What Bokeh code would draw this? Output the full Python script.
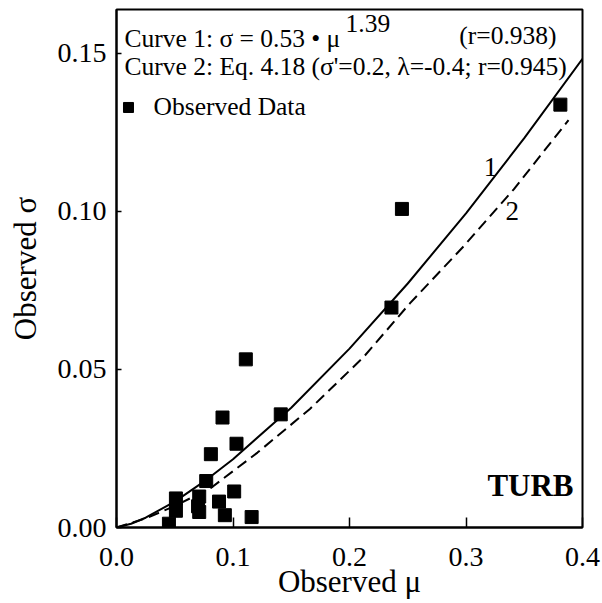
from bokeh.plotting import figure
from bokeh.models import Range1d, FixedTicker, Label, NumeralTickFormatter
from bokeh.embed import file_html
from bokeh.resources import INLINE

# Observed data (mu, sigma)
obs_mu = [0.045, 0.051, 0.051, 0.071, 0.070, 0.071, 0.077, 0.081, 0.091, 0.088,
          0.093, 0.103, 0.101, 0.111, 0.116, 0.141, 0.236, 0.245, 0.381]
obs_sigma = [0.0012, 0.0092, 0.0053, 0.0098, 0.0067, 0.0049, 0.0147, 0.0232, 0.0348, 0.0082,
             0.0039, 0.0265, 0.0114, 0.0532, 0.0033, 0.0358, 0.0696, 0.1008, 0.1338]

# Curve 1: sigma = 0.53 * mu^1.39
c1_mu = [0.0, 0.0125, 0.025, 0.05, 0.075, 0.1, 0.15, 0.2, 0.25, 0.3, 0.35, 0.4]
c1_sigma = [0.0, 0.0012, 0.0031, 0.0082, 0.0145, 0.0216, 0.0379, 0.0566, 0.0772, 0.0994, 0.1232, 0.1483]

# Curve 2: Eq. 4.18
c2_mu = [0.0, 0.026, 0.05, 0.081, 0.121, 0.166, 0.212, 0.252, 0.298, 0.341, 0.388]
c2_sigma = [0.0, 0.0030, 0.0068, 0.0125, 0.0237, 0.0375, 0.0539, 0.0710, 0.0890, 0.1070, 0.1289]

x_ticks = [0.0, 0.1, 0.2, 0.3, 0.4]
y_ticks = [0.0, 0.05, 0.10, 0.15]

FONT = "Liberation Serif"

p = figure(width=602, height=603, output_backend="svg", toolbar_location=None,
           x_range=Range1d(0, 0.4), y_range=Range1d(0, 0.1639),
           min_border_left=116, min_border_right=20, min_border_top=9, min_border_bottom=76)
p.grid.visible = False
p.outline_line_color = "black"
p.outline_line_width = 2
p.background_fill_color = "white"
p.border_fill_color = "white"

for ax in (p.xaxis[0], p.yaxis[0]):
    ax.axis_line_color = "black"
    ax.axis_line_width = 2
    ax.major_tick_line_color = "black"
    ax.major_tick_line_width = 1.5
    ax.minor_tick_line_color = None
    ax.major_label_text_font = FONT
    ax.major_label_text_font_size = "28px"
    ax.major_label_text_color = "black"
    ax.axis_label_text_font = FONT
    ax.axis_label_text_font_size = "31px"
    ax.axis_label_text_font_style = "normal"
    ax.axis_label_text_color = "black"

p.xaxis.ticker = FixedTicker(ticks=x_ticks)
p.yaxis.ticker = FixedTicker(ticks=y_ticks)
p.xaxis.formatter = NumeralTickFormatter(format="0.0")
p.yaxis.formatter = NumeralTickFormatter(format="0.00")
p.xaxis.major_tick_in = 10
p.xaxis.major_tick_out = 0
p.yaxis.major_tick_in = 5
p.yaxis.major_tick_out = 0
p.xaxis.major_label_standoff = 20
p.yaxis.major_label_standoff = 10
p.xaxis.axis_label = "Observed μ"
p.yaxis.axis_label = "Observed σ"
p.xaxis.axis_label_standoff = -5
p.yaxis.axis_label_standoff = 12

p.line(c1_mu, c1_sigma, line_color="black", line_width=2)
p.line(c2_mu, c2_sigma, line_color="black", line_width=2, line_dash="11 6")
p.scatter(obs_mu, obs_sigma, marker="square", size=13, fill_color="black", line_color="black")


def lab(x, y, t, size="25.5px", align="left", baseline="middle", style="normal"):
    p.add_layout(Label(x=x, y=y, text=t, text_font=FONT, text_font_size=size,
                       text_align=align, text_baseline=baseline, text_font_style=style,
                       text_color="black"))

# legend block
lab(0.0069, 0.1547, "Curve 1: σ = 0.53 • μ")
lab(0.1966, 0.1595, "1.39")
lab(0.3777, 0.1557, "(r=0.938)", align="right")
lab(0.0069, 0.1459, "Curve 2: Eq. 4.18 (σ'=0.2, λ=-0.4; r=0.945)")
p.scatter([0.0103], [0.1329], marker="square", size=10, fill_color="black", line_color="black")
lab(0.0318, 0.1332, "Observed Data")

lab(0.321, 0.1142, "1", size="27px", align="center")
lab(0.3396, 0.1002, "2", size="27px", align="center")
lab(0.3923, 0.0133, "TURB", size="31px", align="right", style="bold")

open("out.html", "w").write(file_html(p, INLINE))
